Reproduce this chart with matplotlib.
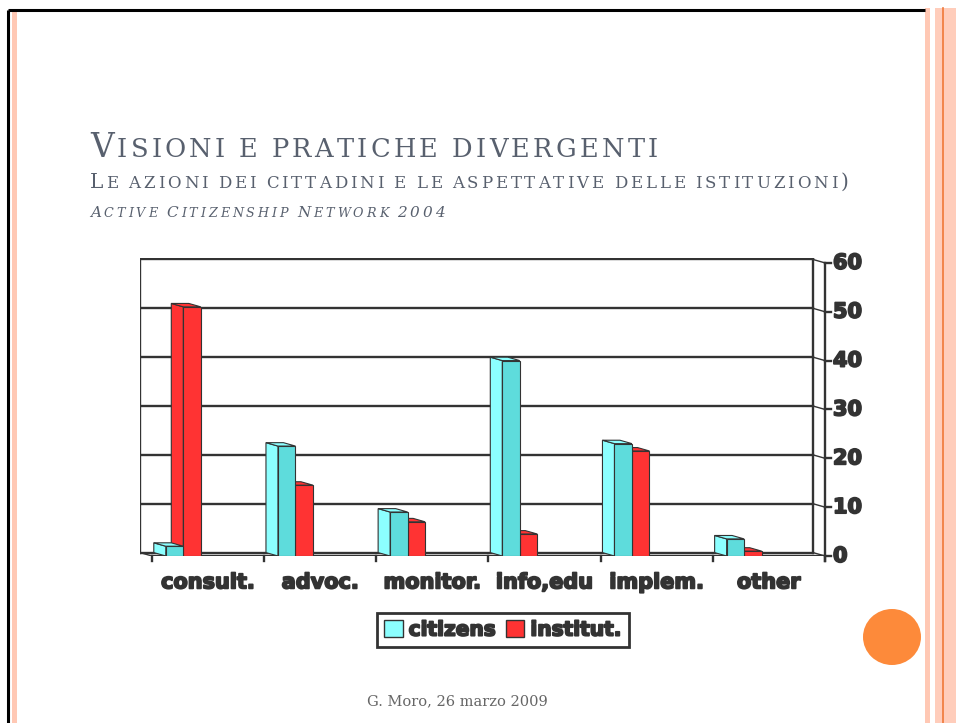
import matplotlib
matplotlib.use("Agg")
import matplotlib.pyplot as plt
from matplotlib.patches import Patch, Rectangle, Ellipse
import matplotlib.patheffects as pe

# data
categories = ["consult.", "advoc.", "monitor.", "info,edu", "implem.", "other"]
citizens = [2, 22.5, 9, 40, 23, 3.5]
institut = [51, 14.5, 7, 4.5, 21.5, 1]
y_ticks = [0, 10, 20, 30, 40, 50, 60]
series_names = ["citizens", "institut."]

title = "Visioni e pratiche divergenti"
subtitle = "Le azioni dei cittadini e le aspettative delle istituzioni)"
source = "Active Citizenship Network 2004"
footer = "G. Moro, 26 marzo 2009"

W, H = 956, 723
DARK = "#333333"
TXT = "#58606e"
CYAN_SIDE = "#8cffff"
CYAN_FRONT = "#5edcdc"
RED = "#ff3333"

fig = plt.figure(figsize=(W / 100, H / 100), dpi=100)
renderer = fig.canvas.get_renderer()

# slide background / decorations in pixel coords
bg = fig.add_axes([0, 0, 1, 1], zorder=0)
bg.set_xlim(0, W)
bg.set_ylim(H, 0)
bg.axis("off")
bg.add_patch(Rectangle((12, 12), 5, H, color="#ffc8b4", lw=0))
bg.add_patch(Rectangle((925, 8), 5, H, color="#ffc8b4", lw=0))
bg.add_patch(Rectangle((935, 8), 21, H, color="#ffcdbb", lw=0))
bg.plot([943, 943], [8, H], color="#f07838", lw=1.2)
bg.plot([8, 925], [10, 10], color="black", lw=2.2, solid_capstyle="butt")
bg.plot([8, 8], [10, H], color="black", lw=2.2, solid_capstyle="butt")
bg.add_patch(Ellipse((892, 637), 58, 56, color="#fd8a3a", lw=0))


def text_width(s, size, style):
    t = fig.text(0, 0, s, fontsize=size, family="DejaVu Serif", style=style)
    w = t.get_window_extent(renderer).width
    t.remove()
    return w


def small_caps(x, y, text, big, small, right, style="normal"):
    """draw text in small caps from x to right (pixels), y is baseline"""
    items = []
    for ch in text:
        if ch == " ":
            items.append((None, big * 0.3))
        else:
            size = small if ch.islower() else big
            items.append((ch.upper(), size))
    widths = [text_width(s, sz, style) if s else sz for s, sz in items]
    track = (right - x - sum(widths)) / (len(items) - 1)
    for (s, sz), w in zip(items, widths):
        if s:
            fig.text(x / W, 1 - y / H, s, fontsize=sz, va="baseline",
                     ha="left", color=TXT, family="DejaVu Serif", style=style)
        x += w + track


small_caps(90, 157, title, 23.5, 18.5, 658)
small_caps(90, 188, subtitle, 14.5, 12, 848)
small_caps(90, 217, source, 11, 9.2, 445, style="italic")
fig.text(457 / W, 1 - 705 / H, footer, fontsize=10.5, ha="center",
         va="baseline", color="#666666", family="DejaVu Serif")

# chart axes: x in categories, y in values
DX = -12 / 112.2
DY = 0.7
ax = fig.add_axes([140 / W, (H - 556) / H, 685 / W, 298 / H], zorder=1)
ax.set_xlim(-0.5 + DX, 5.5)
ax.set_ylim(0, 61)
ax.axis("off")
ax.patch.set_alpha(0)

heavy = [pe.withStroke(linewidth=1.3, foreground=DARK)]
glw = 1.7

# back wall and gridlines
for v in y_ticks:
    ax.plot([-0.5 + DX, 5.5 + DX], [v + DY, v + DY], color=DARK, lw=glw)
    ax.plot([5.5 + DX, 5.5], [v + DY, v], color=DARK, lw=1)
    ax.plot([5.5, 5.55], [v, v], color=DARK, lw=glw, clip_on=False)
    ax.text(5.5 + 8 / 112.2, v, str(v), ha="left", va="center", fontsize=15,
            fontweight="bold", color=DARK, path_effects=heavy)
ax.plot([-0.5 + DX] * 2, [DY, 60 + DY], color=DARK, lw=glw)
ax.plot([5.5 + DX] * 2, [DY, 60 + DY], color=DARK, lw=glw)
ax.plot([5.5, 5.5], [-1.1, 60], color=DARK, lw=glw, clip_on=False)
ax.plot([-0.5, 5.5], [0, 0], color=DARK, lw=glw)
ax.plot([-0.5 + DX, -0.5], [DY, 0], color=DARK, lw=1)
for i in range(len(categories) + 1):
    ax.plot([i - 0.5] * 2, [0, -1.1], color=DARK, lw=glw, clip_on=False)
for i, c in enumerate(categories):
    ax.text(i, -5.4, c, ha="center", va="center", fontsize=15,
            fontweight="bold", color=DARK, path_effects=heavy)

# 3d-ish bars
bw = 0.156


def bar3d(values, offset, front, side, z):
    xs = [i + offset for i in range(len(values))]
    ax.bar(xs, values, width=bw, color=front, edgecolor=DARK, lw=0.8,
           zorder=z + 0.5)
    for x, v in zip(xs, values):
        x0 = x - bw / 2
        ax.fill([x0, x0, x0 + DX, x0 + DX], [0, v, v + DY, DY],
                facecolor=side, edgecolor=DARK, lw=0.8, zorder=z)
        ax.fill([x0, x0 + bw, x0 + bw + DX, x0 + DX], [v, v, v + DY, v + DY],
                facecolor=side, edgecolor=DARK, lw=0.8, zorder=z)


bar3d(institut, -0.143, RED, RED, 3)
bar3d(citizens, -0.299, CYAN_FRONT, CYAN_SIDE, 5)

handles = [Patch(facecolor=CYAN_SIDE, edgecolor=DARK),
           Patch(facecolor=RED, edgecolor=DARK)]
leg = fig.legend(handles, series_names, loc="center",
                 bbox_to_anchor=(503 / W, 1 - 630 / H), ncol=2,
                 fancybox=False, edgecolor=DARK, framealpha=1,
                 handlelength=0.9, handleheight=0.9, handletextpad=0.3,
                 columnspacing=0.5, borderpad=0.35,
                 prop={"size": 14.5, "weight": "bold"})
leg.get_frame().set_linewidth(2)
for t in leg.get_texts():
    t.set_color(DARK)
    t.set_path_effects(heavy)

fig.savefig("out.png", dpi=100)
